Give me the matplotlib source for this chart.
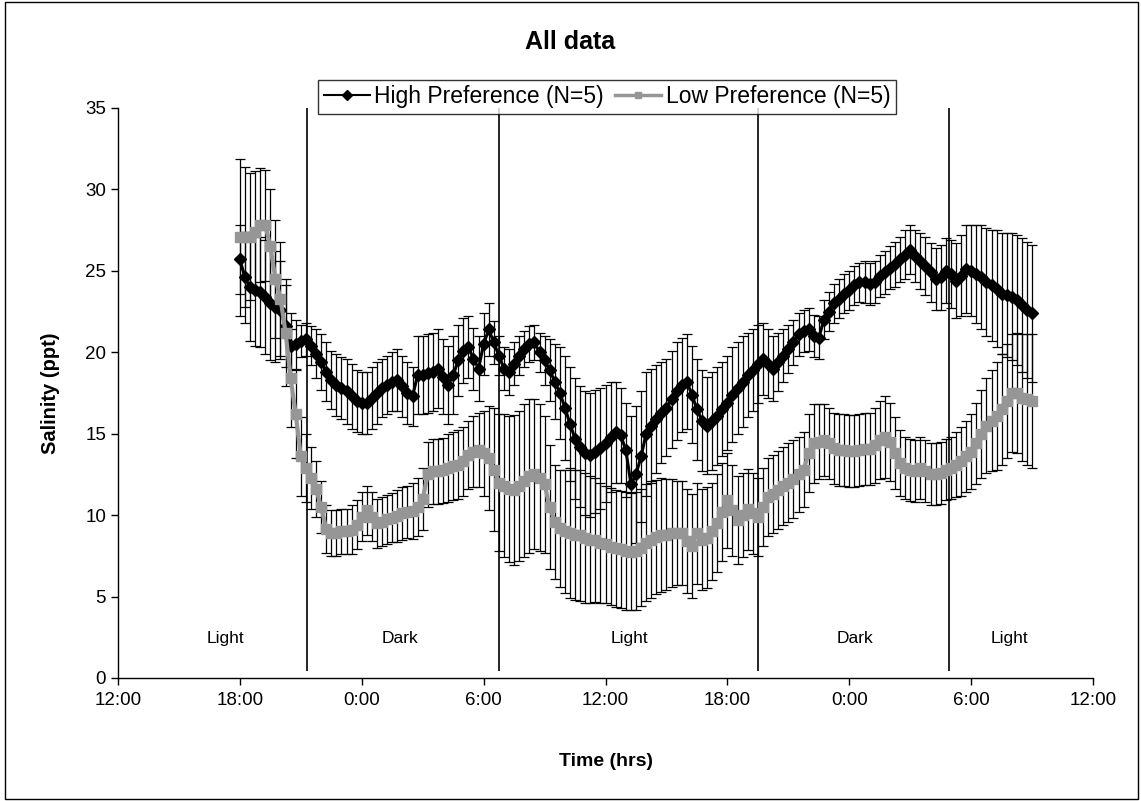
import numpy as np
import matplotlib
matplotlib.use("Agg")
import matplotlib.pyplot as plt
from matplotlib.patches import Rectangle
from matplotlib.lines import Line2D

plt.rcParams['font.family'] = ['Liberation Sans', 'DejaVu Sans']

# ---- data: 15-minute samples from 18:00 (day 1) to 9:00 (day 3) ----
start_hour = 6.0      # hours after 12:00 on day 1 (i.e. 18:00)
step_hours = 0.25

high_mean = [
    25.7, 24.6, 24.0, 23.8,   23.7, 23.4, 23.0, 22.8,   22.6, 21.6, 20.4, 20.5,
    20.7, 20.8, 20.4, 19.9,   19.4, 18.8, 18.3, 18.0,   17.8, 17.6, 17.3, 17.0,
    16.9, 16.9, 17.2, 17.5,   17.8, 18.0, 18.2, 18.3,   17.9, 17.5, 17.3, 18.6,
    18.6, 18.7, 18.8, 19.0,   18.5, 18.0, 18.6, 19.5,   20.1, 20.3, 19.6, 19.0,
    20.5, 21.4, 20.6, 19.8,   19.0, 18.8, 19.3, 19.8,   20.2, 20.5, 20.6, 20.0,
    19.5, 18.9, 18.2, 17.5,   16.6, 15.6, 14.7, 14.2,   13.8, 13.7, 13.9, 14.1,
    14.4, 14.8, 15.1, 14.9,   14.0, 11.9, 12.5, 13.6,   15.0, 15.5, 15.9, 16.3,
    16.6, 17.1, 17.6, 18.0,   18.2, 17.4, 16.5, 15.8,   15.5, 15.8, 16.1, 16.5,
    16.9, 17.4, 17.8, 18.2,   18.6, 18.9, 19.3, 19.6,   19.3, 19.0, 19.4, 19.8,
    20.2, 20.6, 21.1, 21.3,   21.4, 21.0, 20.9, 22.0,   22.5, 23.0, 23.3, 23.6,
    23.8, 24.1, 24.3, 24.3,   24.2, 24.3, 24.7, 24.9,   25.2, 25.4, 25.7, 26.0,
    26.3, 25.9, 25.6, 25.3,   24.9, 24.5, 24.6, 25.0,   24.8, 24.4, 24.7, 25.1,
    25.0, 24.8, 24.6, 24.3,   24.1, 23.9, 23.6, 23.5,   23.4, 23.2, 22.9, 22.6,
    22.4,
]
high_err = [
    2.1, 2.8, 3.3, 3.4,   3.4, 3.5, 3.5, 3.4,   3.0, 2.5, 2.0, 1.5,
    1.0, 1.0, 1.2, 1.5,   1.7, 1.8, 1.8, 1.9,   1.9, 2.0, 2.0, 1.9,
    1.9, 1.9, 1.9, 1.9,   1.8, 1.8, 1.8, 1.9,   1.9, 1.9, 1.8, 2.4,
    2.4, 2.4, 2.4, 2.4,   2.3, 2.4, 2.4, 2.2,   2.0, 1.9, 1.9, 2.0,
    1.9, 1.6, 1.3, 1.2,   1.3, 1.4, 1.3, 1.2,   1.1, 1.1, 1.1, 1.2,
    1.5, 1.9, 2.3, 2.8,   3.2, 3.5, 3.7, 3.7,   3.8, 3.8, 3.8, 3.7,
    3.6, 3.4, 3.1, 2.9,   2.9, 4.2, 4.2, 4.0,   3.8, 3.5, 3.3, 3.1,
    3.0, 3.0, 3.0, 2.9,   2.9, 3.0, 3.1, 3.1,   3.0, 3.0, 3.0, 2.9,
    2.9, 2.9, 2.8, 2.8,   2.6, 2.5, 2.4, 2.2,   2.1, 2.0, 1.8, 1.6,
    1.5, 1.4, 1.3, 1.3,   1.3, 1.3, 1.3, 1.2,   1.2, 1.2, 1.2, 1.2,
    1.2, 1.2, 1.2, 1.3,   1.3, 1.3, 1.3, 1.3,   1.3, 1.4, 1.4, 1.5,
    1.5, 1.6, 1.7, 1.8,   1.8, 1.9, 2.0, 2.0,   2.1, 2.3, 2.5, 2.7,
    2.8, 3.0, 3.2, 3.3,   3.4, 3.6, 3.7, 3.8,   3.9, 4.0, 4.1, 4.2,
    4.2,
]
low_mean = [
    27.05, 27.05, 27.1, 27.4,   27.8, 27.8, 26.5, 24.5,   23.3, 21.2, 18.4, 16.2,
    13.6, 12.9, 12.3, 11.6,     10.5, 9.15, 8.9, 8.9,     9.0, 9.0, 9.1, 9.4,
    9.9, 10.3, 9.9, 9.5,        9.6, 9.75, 9.85, 9.95,    10.1, 10.2, 10.25, 10.5,
    11.0, 12.5, 12.7, 12.7,     12.75, 12.9, 13.0, 13.1,  13.3, 13.7, 13.9, 14.0,
    13.8, 13.5, 12.8, 12.0,     11.8, 11.6, 11.55, 11.8,  12.1, 12.4, 12.5, 12.3,
    11.9, 10.5, 9.6, 9.2,       9.0, 8.9, 8.8, 8.75,      8.6, 8.5, 8.45, 8.3,
    8.2, 8.05, 7.95, 7.9,       7.8, 7.75, 7.8, 8.0,      8.3, 8.5, 8.65, 8.75,
    8.8, 8.9, 8.9, 8.9,         8.4, 8.1, 8.9, 8.5,       8.6, 9.0, 9.5, 10.2,
    10.9, 10.3, 9.7, 10.0,      10.35, 10.1, 9.9, 10.5,   11.1, 11.3, 11.55, 11.8,
    12.0, 12.2, 12.5, 12.8,     13.8, 14.4, 14.5, 14.6,   14.4, 14.1, 14.0, 14.0,
    13.95, 13.95, 14.0, 14.05,  14.05, 14.3, 14.6, 14.8,  14.5, 13.8, 13.2, 12.9,
    12.75, 12.7, 12.9, 12.7,    12.55, 12.5, 12.6, 12.8,  12.9, 13.1, 13.3, 13.6,
    13.9, 14.4, 15.0, 15.5,     15.8, 16.1, 16.5, 17.0,   17.5, 17.5, 17.2, 17.1,
    17.0,
]
low_err = [
    4.8, 4.3, 3.9, 3.7,   3.5, 3.4, 3.5, 3.6,   3.5, 3.3, 3.0, 2.7,
    2.4, 2.1, 1.9, 1.7,   1.6, 1.5, 1.4, 1.4,   1.4, 1.4, 1.5, 1.5,
    1.5, 1.5, 1.5, 1.5,   1.5, 1.5, 1.5, 1.6,   1.6, 1.6, 1.7, 1.8,
    1.9, 2.0, 2.0, 2.0,   2.0, 2.1, 2.1, 2.1,   2.1, 2.1, 2.2, 2.3,
    2.6, 3.2, 3.8, 4.2,   4.4, 4.5, 4.6, 4.6,   4.7, 4.7, 4.6, 4.5,
    4.2, 3.8, 3.5, 3.6,   3.8, 4.0, 4.0, 4.0,   4.0, 3.9, 3.8, 3.7,
    3.6, 3.6, 3.6, 3.6,   3.6, 3.6, 3.6, 3.6,   3.6, 3.6, 3.5, 3.5,
    3.4, 3.3, 3.2, 3.2,   3.2, 3.2, 3.1, 3.1,   3.1, 3.0, 3.0, 3.0,
    2.9, 2.8, 2.7, 2.6,   2.5, 2.5, 2.4, 2.4,   2.4, 2.4, 2.4, 2.4,
    2.4, 2.4, 2.3, 2.3,   2.4, 2.4, 2.3, 2.2,   2.2, 2.2, 2.2, 2.2,
    2.2, 2.2, 2.2, 2.2,   2.2, 2.3, 2.4, 2.5,   2.4, 2.2, 2.0, 1.9,
    1.9, 1.9, 1.9, 1.9,   1.9, 1.9, 1.9, 1.9,   1.9, 2.0, 2.1, 2.2,
    2.3, 2.5, 2.7, 2.9,   3.1, 3.3, 3.4, 3.5,   3.6, 3.7, 3.9, 4.0,
    4.1,
]

tick_hours = [0, 6, 12, 18, 24, 30, 36, 42, 48]
tick_labels = ['12:00', '18:00', '0:00', '6:00', '12:00', '18:00', '0:00', '6:00', '12:00']

# light/dark boundaries (hours after 12:00 day 1) and phase labels
boundaries = [9.3, 18.75, 31.5, 40.9]
phase_names = ['Light', 'Dark', 'Light', 'Dark', 'Light']
phase_centers = [5.3, 13.9, 25.2, 36.3, 43.9]

high_label = 'High Preference (N=5)'
low_label = 'Low Preference (N=5)'

# ---- figure ----
fig = plt.figure(figsize=(11.41, 8.01), dpi=100)
fig.patch.set_facecolor('white')
fig.add_artist(Rectangle((0.004, 0.003), 0.993, 0.994, transform=fig.transFigure,
                         fill=False, edgecolor='black', linewidth=1.0))

ax = fig.add_axes([0.1034, 0.1536, 0.8546, 0.7116])

x = start_hour + step_hours * np.arange(len(high_mean))
gray = '#969696'

ax.errorbar(x, high_mean, yerr=high_err, color='black', marker='D', markersize=6.5,
            linewidth=2.2, ecolor='black', elinewidth=0.9, capsize=3.5, capthick=0.9,
            zorder=3)
ax.errorbar(x, low_mean, yerr=low_err, color=gray, marker='s', markersize=6.5,
            markeredgecolor=gray, linewidth=3, ecolor='black', elinewidth=0.9,
            capsize=3.5, capthick=0.9, zorder=4)

for b in boundaries:
    ax.vlines(b, 0.4, 35, color='black', linewidth=1.2, zorder=2)
for name, cx in zip(phase_names, phase_centers):
    ax.text(cx, 2.4, name, ha='center', va='center', fontsize=12.5)

ax.set_xlim(0, 48)
ax.set_ylim(0, 35)
ax.set_xticks(tick_hours)
ax.set_xticklabels(tick_labels)
ax.set_yticks(range(0, 36, 5))
ax.tick_params(axis='both', labelsize=13.5, direction='out', length=5, width=1)
ax.tick_params(axis='x', pad=5)
for s in ['top', 'right']:
    ax.spines[s].set_visible(False)
for s in ['left', 'bottom']:
    ax.spines[s].set_linewidth(1.0)

ax.set_xlabel('Time (hrs)', fontsize=14, fontweight='bold', labelpad=32)
ax.set_ylabel('Salinity (ppt)', fontsize=14.5, fontweight='bold', labelpad=18)
fig.text(0.5, 0.948, 'All data', ha='center', va='center', fontsize=18, fontweight='bold')

handles = [Line2D([0], [0], color='black', marker='D', markersize=5, linewidth=1.5),
           Line2D([0], [0], color=gray, marker='s', markersize=5, linewidth=2.5)]
leg = fig.legend(handles, [high_label, low_label], loc='center', ncol=2,
                 bbox_to_anchor=(0.532, 0.879), fontsize=16.5, frameon=True, fancybox=False,
                 edgecolor='black', handlelength=2.0, handletextpad=0.2, columnspacing=0.5,
                 borderpad=0.25)
leg.get_frame().set_linewidth(1.0)

fig.savefig('out.png', dpi=100, facecolor='white')
